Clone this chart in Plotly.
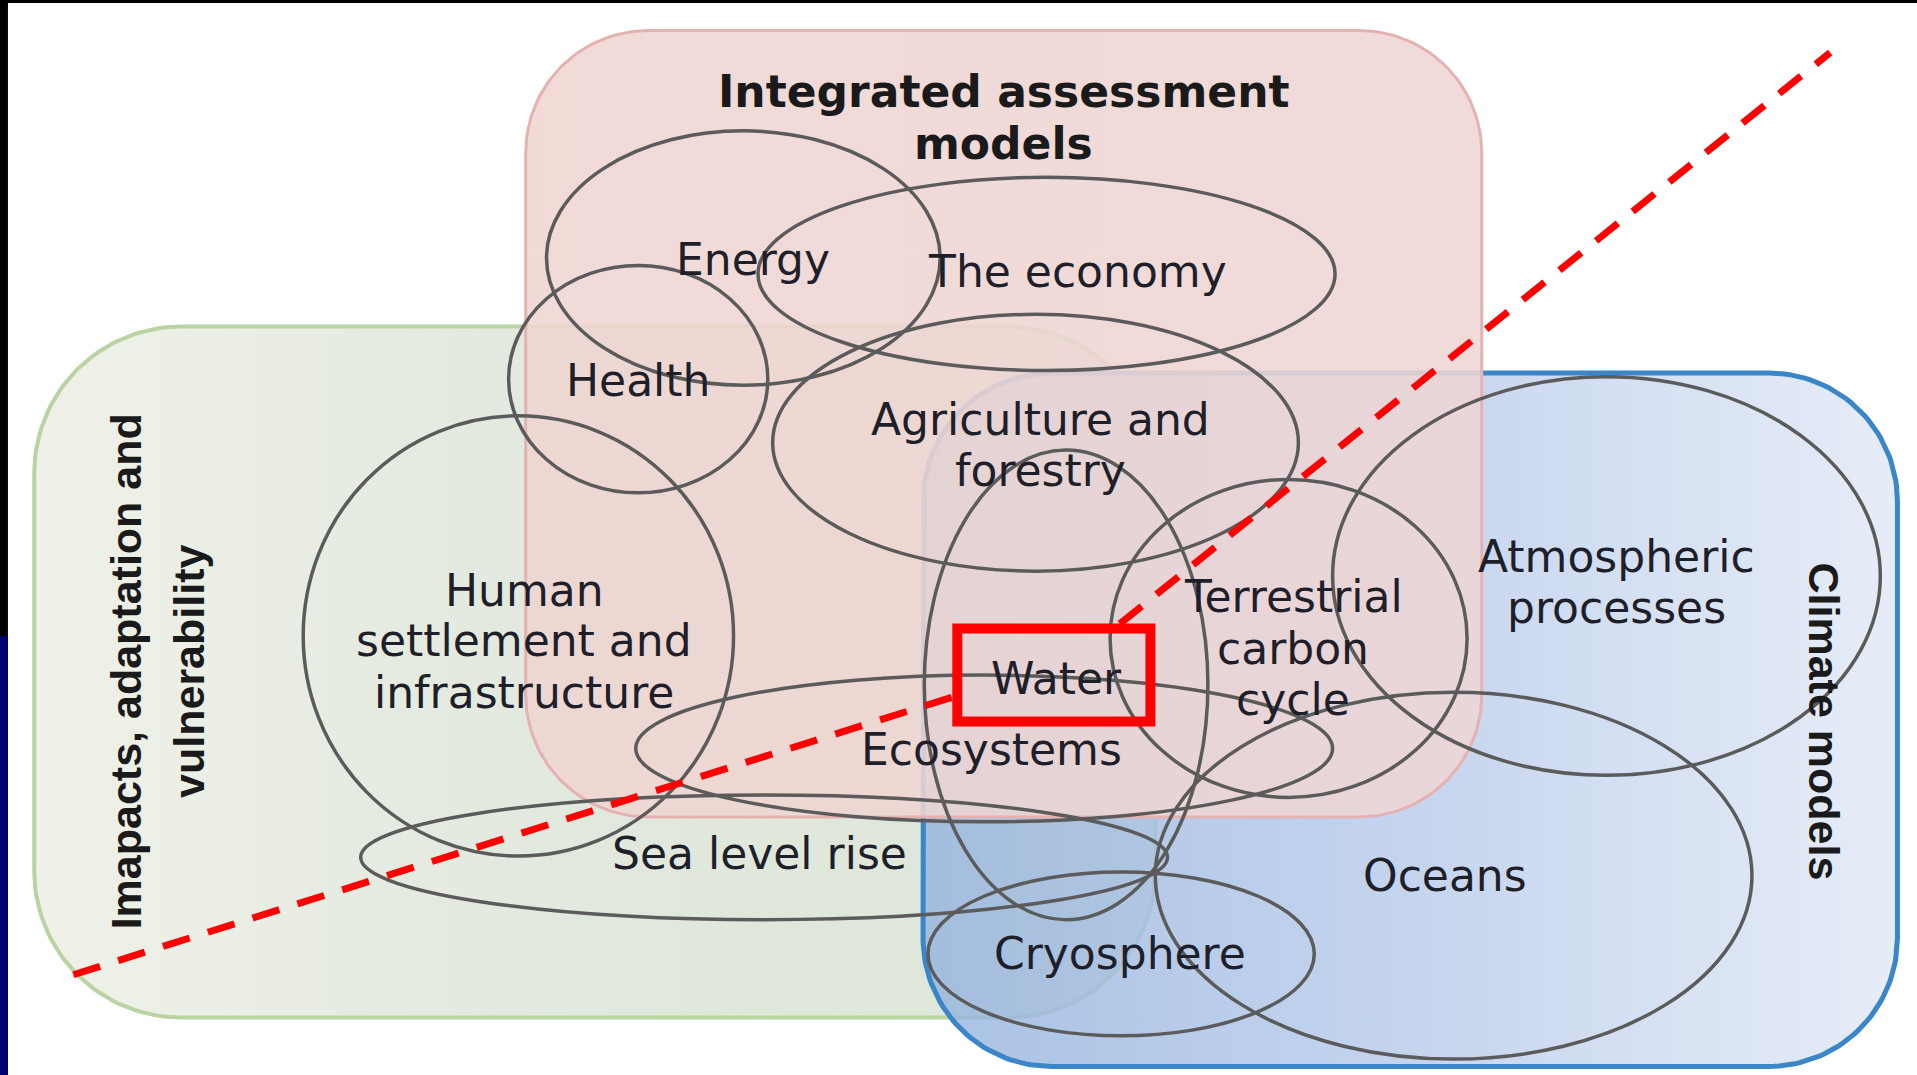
import numpy as np
import plotly.graph_objs as go
from typing import List

# the drawing is laid out in the units of the reference picture (1568 x 879)
# and rendered at 1917 x 1075
CANVAS_W = 1568
CANVAS_H = 879
FIG_W = 1917
FIG_H = 1075

# three modelling communities (rounded boxes), drawn green, blue, pink
box_names = ['Impacts, adaptation and vulnerability', 'Climate models', 'Integrated assessment models']
box_left = [28, 755, 430]
box_right = [945, 1552, 1212]
box_top = [267, 305, 25]
box_bottom = [832, 872, 668]
box_radius = [120, 105, 100]
box_border = ['#b9d3a3', '#3a86c8', '#e4b2b1']
box_border_width = [4, 5, 3]
box_fill = [
    [[0, 'rgba(239,241,232,0.97)'], [0.45, 'rgba(225,232,221,0.97)'], [1, 'rgba(218,229,214,0.97)']],
    [[0, 'rgba(150,180,222,0.82)'], [0.5, 'rgba(184,203,234,0.82)'], [1, 'rgba(226,233,246,0.82)']],
    [[0, 'rgba(239,213,209,0.88)'], [1, 'rgba(238,214,213,0.88)']],
]

# the topics (ellipses)
topic_names = ['Energy', 'The economy', 'Health', 'Agriculture and forestry',
               'Human settlement and infrastructure', 'Water', 'Terrestrial carbon cycle',
               'Atmospheric processes', 'Ecosystems', 'Sea level rise', 'Oceans', 'Cryosphere']
topic_cx = [608, 856, 522, 847, 424, 872, 1054, 1314, 805, 625, 1189, 917]
topic_cy = [211, 224, 310, 362, 520, 560, 522, 471, 612, 701, 716, 780]
topic_rx = [161, 236, 106, 215, 176, 116, 146, 224, 285, 330, 244, 158]
topic_ry = [104, 79, 93, 105, 180, 192, 130, 163, 60, 51, 150, 67]

# label lines (one entry per printed line)
label_text = ['Energy', 'The economy', 'Health', 'Agriculture and', 'forestry',
              'Human', 'settlement and', 'infrastructure', 'Terrestrial', 'carbon', 'cycle',
              'Atmospheric', 'processes', 'Water', 'Ecosystems', 'Sea level rise', 'Oceans', 'Cryosphere']
label_x = [616, 881, 522, 851, 851, 429, 429, 429, 1058, 1058, 1058, 1322, 1322, 864, 811, 621, 1182, 916]
label_y = [212, 222, 311, 343, 385, 483, 524, 566, 488, 530, 572, 455, 497, 555, 613, 698, 716, 780]

title_text = ['Integrated assessment', 'models']
title_x = [821, 821]
title_y = [75, 117]

side_text = ['Imapacts, adaptation and', 'vulnerability', 'Climate models']
side_x = [103, 155, 1492]
side_y = [549, 549, 590]
side_angle = [-90, -90, 90]

# red dashed divider, two legs meeting at the highlighted "Water" box
divider_x = [[60, 779], [916, 1497]]
divider_y = [[797, 570], [510, 43]]
highlight_x = [783, 941]
highlight_y = [514, 590]


def rounded_box(x0: float, y0: float, x1: float, y1: float, r: float, n: int = 40):
    """
    Outline of a rounded rectangle, y pointing down.
    """
    xs: List[float] = []
    ys: List[float] = []
    corners = [(x1 - r, y0 + r, -90, 0), (x1 - r, y1 - r, 0, 90),
               (x0 + r, y1 - r, 90, 180), (x0 + r, y0 + r, 180, 270)]
    for cx, cy, a0, a1 in corners:
        t = np.radians(np.linspace(a0, a1, n))
        xs.extend(cx + r * np.cos(t))
        ys.extend(cy + r * np.sin(t))
    xs.append(xs[0])
    ys.append(ys[0])
    return xs, ys


fig = go.Figure()

# boxes
for i in range(len(box_names)):
    xs, ys = rounded_box(box_left[i], box_top[i], box_right[i], box_bottom[i], box_radius[i])
    fig.add_trace(go.Scatter(x=xs, y=ys, mode='lines', fill='toself',
                             fillgradient=dict(type='horizontal', colorscale=box_fill[i]),
                             line=dict(color=box_border[i], width=box_border_width[i]),
                             hoverinfo='skip', name=box_names[i]))

# slide frame: black top band, dark left edge
fig.add_shape(type='rect', x0=0, x1=CANVAS_W, y0=0, y1=2.5, line_width=0, fillcolor='black')
fig.add_shape(type='rect', x0=0, x1=6.5, y0=0, y1=CANVAS_H, line_width=0, fillcolor='black')
fig.add_shape(type='rect', x0=0, x1=6.5, y0=520, y1=CANVAS_H, line_width=0, fillcolor='#000072')

# topic ellipses
for i in range(len(topic_names)):
    fig.add_shape(type='circle', x0=topic_cx[i] - topic_rx[i], x1=topic_cx[i] + topic_rx[i],
                  y0=topic_cy[i] - topic_ry[i], y1=topic_cy[i] + topic_ry[i],
                  line=dict(color='#5b5b5b', width=3.5), fillcolor='rgba(0,0,0,0)', layer='above')

# red divider and highlight
for xs, ys in zip(divider_x, divider_y):
    fig.add_shape(type='line', x0=xs[0], x1=xs[1], y0=ys[0], y1=ys[1],
                  line=dict(color='#ff0000', width=7, dash='28px,19px'), layer='above')
fig.add_shape(type='rect', x0=highlight_x[0], x1=highlight_x[1], y0=highlight_y[0], y1=highlight_y[1],
              line=dict(color='#ff0000', width=10), fillcolor='rgba(0,0,0,0)', layer='above')

# labels
for t, x, y in zip(label_text, label_x, label_y):
    fig.add_annotation(x=x, y=y, text=t, showarrow=False, xanchor='center', yanchor='middle',
                       font=dict(family='DejaVu Sans', size=44, color='#1f1f29'))
for t, x, y in zip(title_text, title_x, title_y):
    fig.add_annotation(x=x, y=y, text='<b>%s</b>' % t, showarrow=False, xanchor='center', yanchor='middle',
                       font=dict(family='DejaVu Sans', size=44, color='#1a1a1a'))
for t, x, y, a in zip(side_text, side_x, side_y, side_angle):
    fig.add_annotation(x=x, y=y, text='<b>%s</b>' % t, showarrow=False, textangle=a,
                       xanchor='center', yanchor='middle',
                       font=dict(family='Liberation Sans', size=43, color='#1a1a1a'))

fig.update_layout(width=FIG_W, height=FIG_H, margin=dict(l=0, r=0, t=0, b=0),
                  paper_bgcolor='white', plot_bgcolor='white', showlegend=False)
fig.update_xaxes(range=[0, CANVAS_W], visible=False, fixedrange=True)
fig.update_yaxes(range=[CANVAS_H, 0], visible=False, fixedrange=True)

# the page's default body margin would push the figure off the window
fig.write_html("out.html", config={'displayModeBar': False},
               post_script="document.body.style.margin='0';document.body.style.overflow='hidden';")
